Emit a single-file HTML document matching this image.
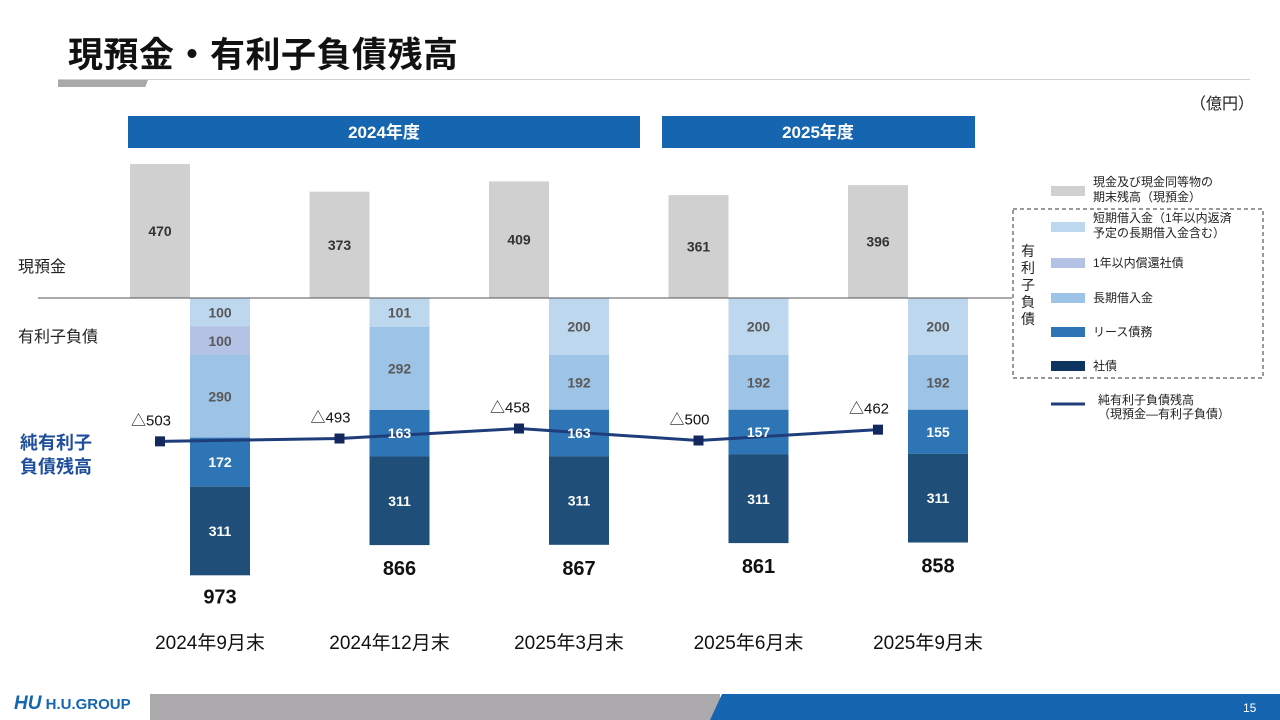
<!DOCTYPE html>
<html><head><meta charset="utf-8">
<style>
body{margin:0;width:1280px;height:720px;overflow:hidden;background:#fff;font-family:"Liberation Sans","Noto Sans CJK JP",sans-serif;position:relative}
.abs{position:absolute}
</style></head>
<body>
<div class="abs" style="left:68px;top:27px;font-size:35px;font-weight:bold;color:#111;letter-spacing:0.5px">現預金・有利子負債残高</div>
<div class="abs" style="left:58px;top:79px;width:1192px;height:1px;background:#cfcfcf"></div>
<div class="abs" style="left:58px;top:80px;width:90px;height:7px;background:#a9a9a9;clip-path:polygon(0 0,100% 0,97% 100%,0 100%)"></div>
<div class="abs" style="left:1190px;top:90px;font-size:16px;color:#222">（億円）</div>
<svg class="abs" style="left:0;top:0" width="1280" height="720" id="chart"></svg>
<div class="abs" style="left:14px;top:693px;font-size:15px;font-weight:bold;color:#1565b0"><span style="font-style:italic;font-size:19px">HU</span> H.U.GROUP</div>
<div class="abs" style="left:150px;top:694px;width:570px;height:26px;background:#adaaad"></div>
<div class="abs" style="left:710px;top:694px;width:570px;height:26px;background:#1565b0;clip-path:polygon(12px 0,100% 0,100% 100%,0 100%)"></div>
<div class="abs" style="left:1243px;top:701px;font-size:12px;color:#fff">15</div>
<script>
const periods=["2024年9月末","2024年12月末","2025年3月末","2025年6月末","2025年9月末"];
const cash=[470,373,409,361,396];
const shortLoans=[100,101,200,200,200];
const bondsDue1y=[100,0,0,0,0];
const longLoans=[290,292,192,192,192];
const lease=[172,163,163,157,155];
const bonds=[311,311,311,311,311];
const debtTotals=[973,866,867,861,858];
const netDebt=[503,493,458,500,462];
const svg=document.getElementById('chart');
const NS='http://www.w3.org/2000/svg';
const base=298,k=0.285;
const y=v=>base+v*k;
const xc=i=>130+i*179.5;
function mk(tag,attrs,text){const e=document.createElementNS(NS,tag);for(const a in attrs)e.setAttribute(a,attrs[a]);if(text!==undefined)e.textContent=text;svg.appendChild(e);return e;}
let h=mk('rect',{x:128,y:116,width:512,height:32,fill:'#1565b0'});

let t=mk('text',{x:384,y:138,'text-anchor':'middle','font-size':17,'font-weight':'bold',fill:'#fff'},'2024年度');

h=mk('rect',{x:662,y:116,width:313,height:32,fill:'#1565b0'});

t=mk('text',{x:818,y:138,'text-anchor':'middle','font-size':17,'font-weight':'bold',fill:'#fff'},'2025年度');

t=mk('text',{x:18,y:272,'font-size':16,fill:'#222'},'現預金');
t=mk('text',{x:18,y:342,'font-size':16,fill:'#222'},'有利子負債');
t=mk('text',{x:20,y:449,'font-size':18,'font-weight':'bold',fill:'#1f4e9c'},'純有利子');
t=mk('text',{x:20,y:473,'font-size':18,'font-weight':'bold',fill:'#1f4e9c'},'負債残高');
const segs=[[shortLoans,'#bdd7ee','#595959','short-loans'],[bondsDue1y,'#b4c2e6','#595959','bonds-due-1y'],[longLoans,'#9dc3e6','#595959','long-loans'],[lease,'#2e75b6','#fff','lease'],[bonds,'#1f4e79','#fff','bonds']];
const labels=[];
const pts=[];
periods.forEach((p,i)=>{
  const x0=xc(i);
  let r=mk('rect',{x:x0,y:y(-cash[i]),width:60,height:cash[i]*k,fill:'#d0d0d0'});
  
  t=mk('text',{x:x0+30,y:y(-cash[i]/2)+5,'text-anchor':'middle','font-size':14,'font-weight':'bold',fill:'#333'},cash[i]);
  
  let acc=0;
  segs.forEach(s=>{const v=s[0][i];if(!v)return;
    r=mk('rect',{x:x0+60,y:y(acc),width:60,height:v*k,fill:s[1]});
    
    labels.push([x0+90,y(acc+v/2)+5,s[2],v,s[3]]);
    acc+=v;});
  t=mk('text',{x:x0+90,y:y(acc)+(i==0?28:30),'text-anchor':'middle','font-size':20,'font-weight':'bold',fill:'#111'},debtTotals[i]);
  
  pts.push([x0+30,y(netDebt[i])]);
  t=mk('text',{x:x0+1,y:y(netDebt[i])-16,'font-size':15,fill:'#111'},'△'+netDebt[i]);
  
  t=mk('text',{x:x0+80,y:649,'text-anchor':'middle','font-size':19,fill:'#111'},p);
  
});
let l=mk('line',{x1:38,y1:298,x2:1012,y2:298,stroke:'#555','stroke-width':1});

let pl=mk('polyline',{points:pts.map(p=>p.join(',')).join(' '),fill:'none',stroke:'#1f3d7a','stroke-width':3});

pts.forEach(p=>{const m=mk('rect',{x:p[0]-5,y:p[1]-5,width:10,height:10,fill:'#13295e'});
  });
labels.forEach(a=>{const tt=mk('text',{x:a[0],y:a[1],'text-anchor':'middle','font-size':14,'font-weight':'bold',fill:a[2]},a[3]);
  
  });
let b=mk('rect',{x:1013,y:209,width:250,height:169,fill:'none',stroke:'#333','stroke-dasharray':'4,3'});

['有','利','子','負','債'].forEach((c,j)=>{t=mk('text',{x:1021,y:256+j*17,'font-size':14,fill:'#222'},c);
  });
const legend=[['#d0d0d0',191,['現金及び現金同等物の','期末残高（現預金）']],['#bdd7ee',227,['短期借入金（1年以内返済','予定の長期借入金含む）']],['#b4c2e6',263,['1年以内償還社債']],['#9dc3e6',298,['長期借入金']],['#2e75b6',332,['リース債務']],['#0e3560',366,['社債']]];
legend.forEach(e=>{const r=mk('rect',{x:1051,y:e[1]-5,width:34,height:10,fill:e[0]});
  
  e[2].forEach((s,j)=>{const tt=mk('text',{x:1093,y:e[1]+(e[2].length>1?-5:4)+j*15,'font-size':12,fill:'#222'},s);
   });});
l=mk('line',{x1:1051,y1:404,x2:1085,y2:404,stroke:'#1f3d7a','stroke-width':3});

t=mk('text',{x:1098,y:404,'font-size':12,fill:'#222'},'純有利子負債残高');
t=mk('text',{x:1098,y:418,'font-size':12,fill:'#222'},'（現預金―有利子負債）');
</script>
</body></html>
